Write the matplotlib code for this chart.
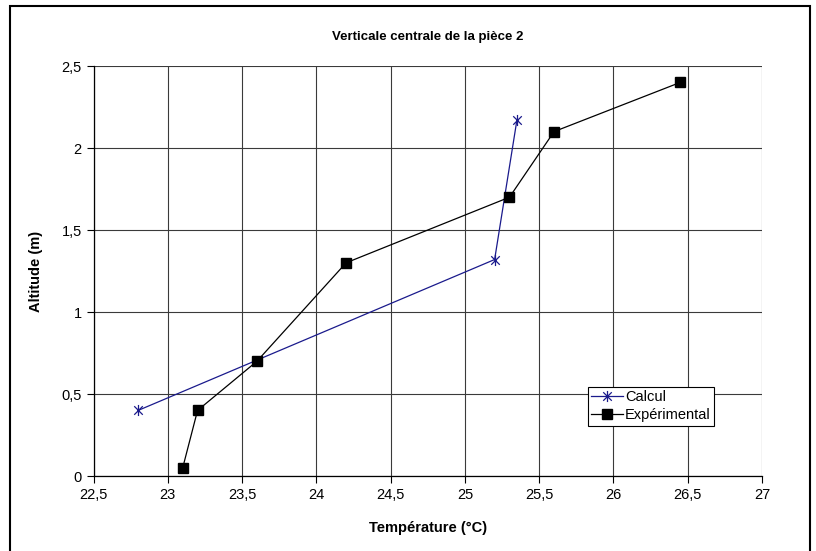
import matplotlib
matplotlib.use("Agg")
import matplotlib.pyplot as plt
from matplotlib.path import Path
from matplotlib.patches import Rectangle
from matplotlib.ticker import FuncFormatter

plt.rcParams["font.family"] = ["Liberation Sans", "DejaVu Sans"]

# ── data ─────────────────────────────────────────────────────────────────────
calc_temp = [22.8, 25.2, 25.35]
calc_alt = [0.4, 1.32, 2.17]

exp_temp = [23.1, 23.2, 23.6, 24.2, 25.3, 25.6, 26.45]
exp_alt = [0.05, 0.4, 0.7, 1.3, 1.7, 2.1, 2.4]

x_ticks = [22.5, 23, 23.5, 24, 24.5, 25, 25.5, 26, 26.5, 27]
y_ticks = [0, 0.5, 1, 1.5, 2, 2.5]

NAVY = "#1a1a8c"

# Excel-style asterisk: an X plus a vertical bar
star = Path([(-1, -1), (1, 1), (-1, 1), (1, -1), (0, -1.3), (0, 1.3)],
            [Path.MOVETO, Path.LINETO, Path.MOVETO, Path.LINETO,
             Path.MOVETO, Path.LINETO])

fig = plt.figure(figsize=(8.16, 5.51), dpi=100, facecolor="white")
ax = fig.add_axes([0.1147, 0.1361, 0.9338 - 0.1147, 0.8802 - 0.1361])

# outer chart border
fig.patches.append(Rectangle((10 / 816, -0.05), 800 / 816, 1 - 6 / 551 + 0.05,
                             transform=fig.transFigure, fill=False,
                             edgecolor="black", lw=1.5))

ax.plot(calc_temp, calc_alt, color=NAVY, lw=0.9, marker=star, markersize=8,
        markeredgecolor=NAVY, markeredgewidth=0.9, fillstyle="none",
        label="Calcul", zorder=3)
ax.plot(exp_temp, exp_alt, color="black", lw=0.9, marker="s", markersize=6.5,
        markerfacecolor="black", markeredgecolor="black",
        label="Expérimental", zorder=3)

ax.set_xlim(22.5, 27)
ax.set_ylim(0, 2.5)
ax.set_xticks(x_ticks)
ax.set_yticks(y_ticks)
fmt = FuncFormatter(lambda v, p: f"{v:g}".replace(".", ","))
ax.xaxis.set_major_formatter(fmt)
ax.yaxis.set_major_formatter(fmt)
ax.tick_params(direction="out", length=5, width=0.8, labelsize=10.5, colors="black")

ax.grid(True, color="#3a3a3a", lw=0.8)
ax.set_axisbelow(True)
for side in ["top", "right"]:
    ax.spines[side].set_visible(False)
for side in ["left", "bottom"]:
    ax.spines[side].set_linewidth(0.9)

ax.set_xlabel("Température (°C)", fontsize=10.5, fontweight="bold", labelpad=14)
ax.set_ylabel("Altitude (m)", fontsize=10.5, fontweight="bold", labelpad=13)
fig.text((0.1147 + 0.9338) / 2, 1 - 37 / 551, "Verticale centrale de la pièce 2",
         ha="center", va="center", fontsize=9.5, fontweight="bold")

leg = ax.legend(loc="upper left", bbox_to_anchor=((587.7 - 93.6) / 668.4, (476 - 386.7) / 410),
                fontsize=10.5, frameon=True, fancybox=False, framealpha=1,
                edgecolor="black", handlelength=2.2, handletextpad=0.1,
                borderpad=0.25, labelspacing=0.25, borderaxespad=0)
leg.get_frame().set_linewidth(0.8)

fig.savefig("out.png", dpi=100, facecolor="white")
